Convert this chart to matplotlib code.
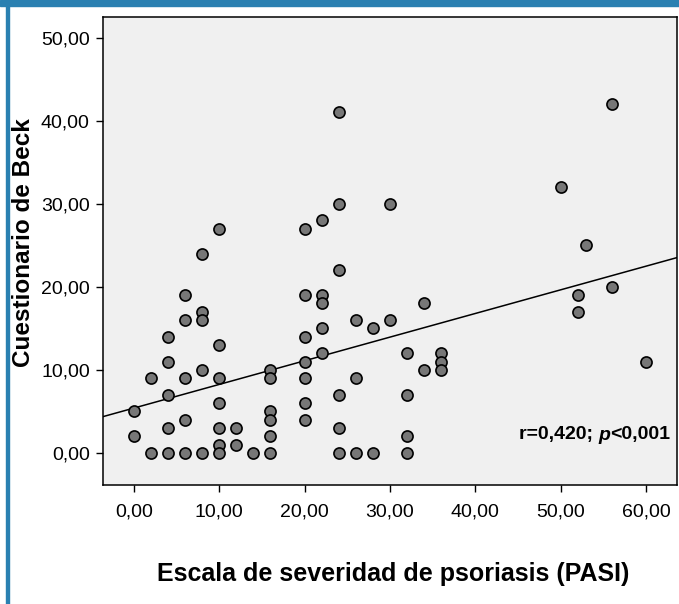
import numpy as np
import matplotlib
matplotlib.use("Agg")
import matplotlib.pyplot as plt
from matplotlib.patches import Rectangle

plt.rcParams['font.family'] = ['Liberation Sans', 'DejaVu Sans']

# PASI score (x) and Beck questionnaire score (y)
pasi = [0, 0, 2, 2, 4, 4, 4, 4, 4, 6, 6, 6, 6, 6,
        8, 8, 8, 8, 8, 10, 10, 10, 10, 10, 10, 10, 12, 12, 14,
        16, 16, 16, 16, 16, 16, 20, 20, 20, 20, 20, 20, 20,
        22, 22, 22, 22, 22, 24, 24, 24, 24, 24, 24, 26, 26, 26,
        28, 28, 30, 30, 32, 32, 32, 32, 34, 34, 36, 36, 36,
        50, 53, 52, 52, 56, 56, 60]
beck = [5, 2, 9, 0, 14, 11, 7, 3, 0, 19, 16, 9, 4, 0,
        24, 17, 16, 10, 0, 27, 13, 9, 6, 3, 1, 0, 3, 1, 0,
        10, 9, 5, 4, 2, 0, 27, 19, 14, 11, 9, 6, 4,
        28, 19, 18, 15, 12, 41, 30, 22, 7, 3, 0, 16, 9, 0,
        15, 0, 30, 16, 12, 7, 2, 0, 18, 10, 12, 11, 10,
        32, 25, 19, 17, 42, 20, 11]

# fit line as drawn in the picture
fit_intercept = 5.4
fit_slope = 0.285

xticks = [0, 10, 20, 30, 40, 50, 60]
yticks = [0, 10, 20, 30, 40, 50]

def fmt(v):
    return f"{v:.2f}".replace('.', ',')

fig = plt.figure(figsize=(6.79, 6.04), dpi=100)
ax = fig.add_axes([103 / 679, 1 - 485 / 604, 574 / 679, 468 / 604])
ax.set_facecolor('#f0f0f0')

ax.scatter(pasi, beck, s=64, c='#777777', edgecolors='black', linewidths=1.2, zorder=3)

xl = np.array([-3.6, 63.6])
ax.plot(xl, fit_intercept + fit_slope * xl, color='black', lw=1.1, zorder=2)

ax.set_xlim(-3.6, 63.6)
ax.set_ylim(-3.86, 52.5)
ax.set_xticks(xticks)
ax.set_xticklabels([fmt(v) for v in xticks])
ax.set_yticks(yticks)
ax.set_yticklabels([fmt(v) for v in yticks])
ax.tick_params(direction='out', length=5, width=1, labelsize=14, colors='black', pad=4.5)
ax.tick_params(axis='x', pad=8)
for s in ax.spines.values():
    s.set_linewidth(1.1)

fig.text(23.5 / 679, 1 - 243 / 604, 'Cuestionario de Beck', rotation=90,
         ha='center', va='center', fontsize=17.5, fontweight='bold')
fig.text(393 / 679, 1 - 574 / 604, 'Escala de severidad de psoriasis (PASI)',
         ha='center', va='center', fontsize=18, fontweight='bold')

# annotation: r=0,420; p<0,001 with italic p
fig.canvas.draw()
r = fig.canvas.get_renderer()
tx, ty = (670 - 103) / 574, (485 - 435) / 468
t3 = ax.text(tx, ty, '<0,001', transform=ax.transAxes, ha='right', va='center',
             fontsize=14, fontweight='bold')
bb = t3.get_window_extent(r)
x2 = ax.transAxes.inverted().transform((bb.x0, 0))[0]
t2 = ax.text(x2, ty, 'p', transform=ax.transAxes, ha='right', va='center',
             fontsize=14, fontweight='bold', fontstyle='italic')
bb = t2.get_window_extent(r)
x1 = ax.transAxes.inverted().transform((bb.x0, 0))[0]
ax.text(x1, ty, 'r=0,420; ', transform=ax.transAxes, ha='right', va='center',
        fontsize=14, fontweight='bold')

# blue frame: band on top, thin line on the left
blue = '#2a80b1'
fig.patches.append(Rectangle((0, 1 - 6 / 604), 1, 6 / 604, transform=fig.transFigure,
                             color=blue, zorder=10))
fig.patches.append(Rectangle((6 / 679, 0), 3 / 679, 1, transform=fig.transFigure,
                             color=blue, zorder=10))

fig.savefig('out.png', dpi=100)
